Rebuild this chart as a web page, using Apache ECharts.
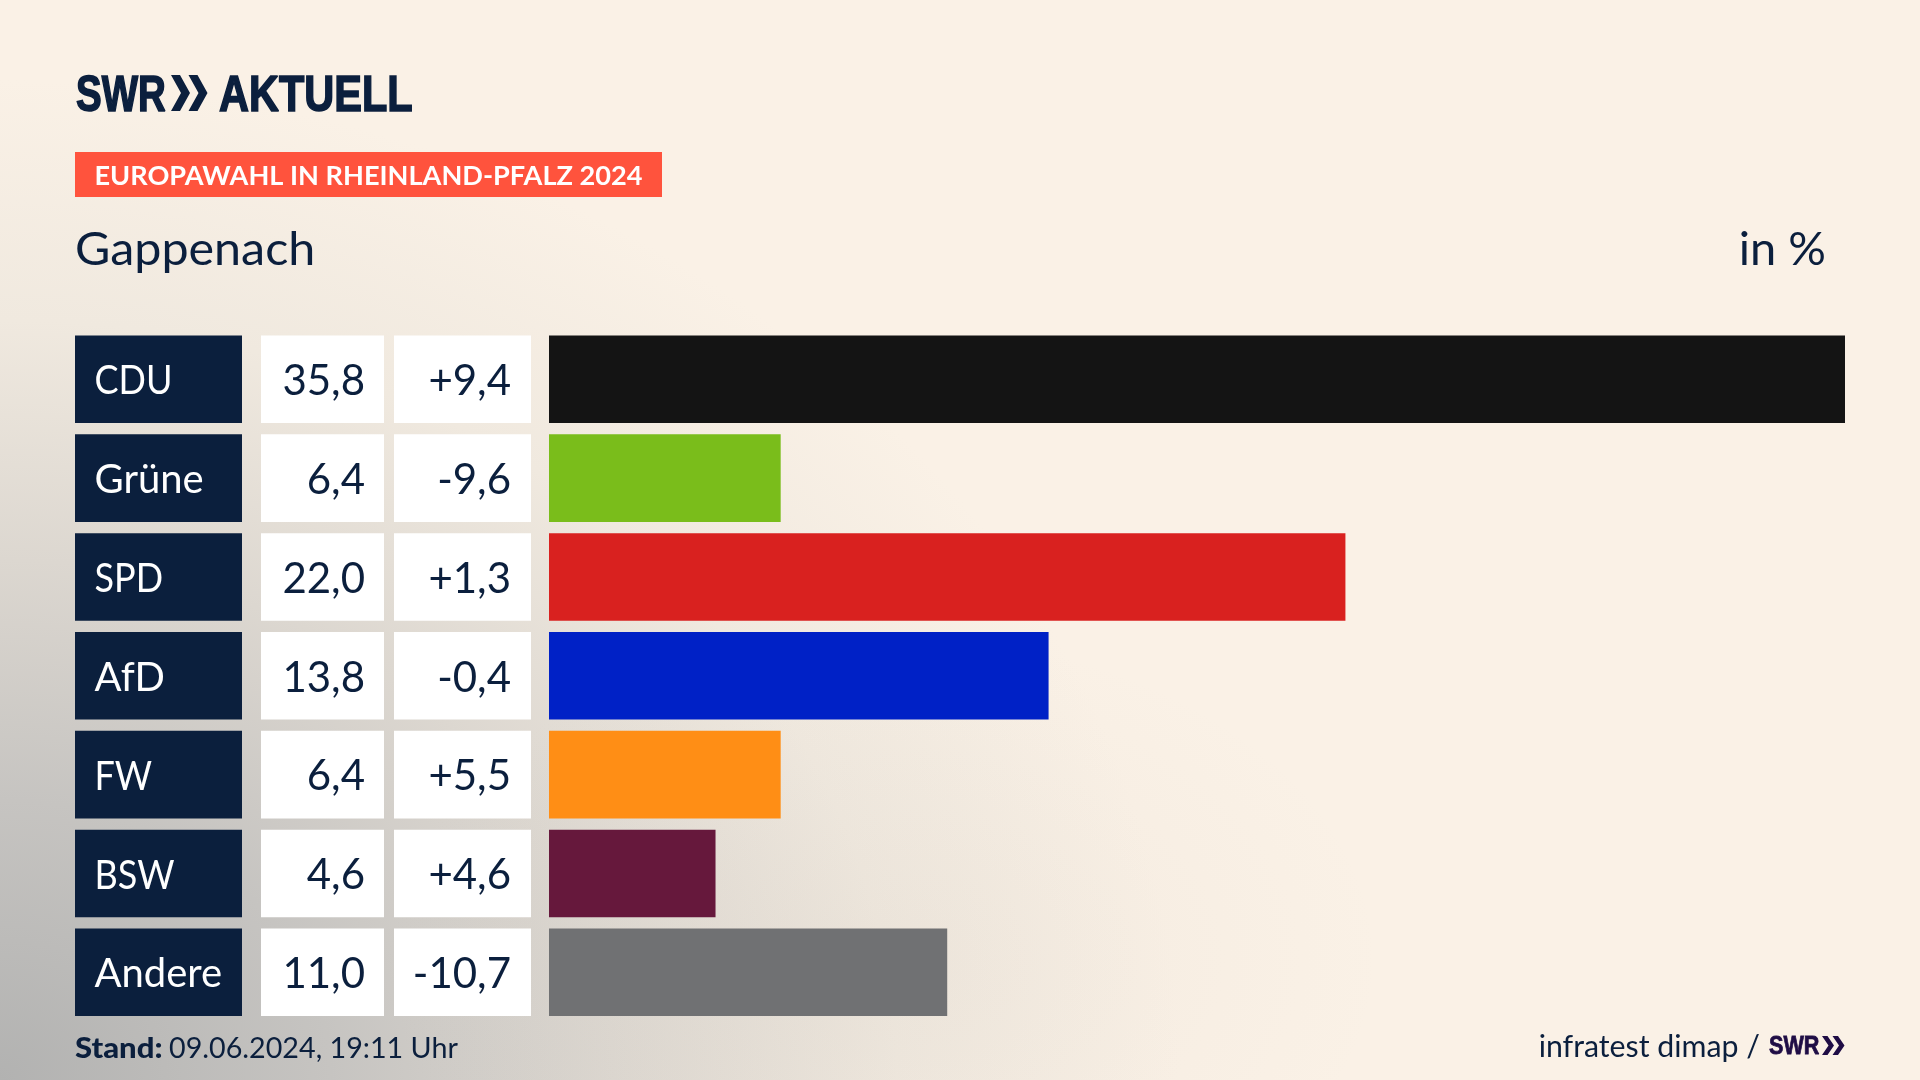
<!DOCTYPE html>
<html><head><meta charset="utf-8">
<style>
html,body{margin:0;padding:0;width:1920px;height:1080px;overflow:hidden}
#c{width:1920px;height:1080px;
background:
radial-gradient(ellipse 500px 330px at 880px 960px, rgba(200,190,180,.13), rgba(200,190,180,0) 100%),
radial-gradient(ellipse 1180px 1000px at 0px 1080px, #b2b2b1 0%, #c6c4c1 28%, #dcd7d0 52%, #f0e9df 76%, #faf1e6 100%),
#faf1e6;}
</style>
<script src="https://cdn.jsdelivr.net/npm/echarts@6/dist/echarts.min.js"></script>
</head><body><div id="c"></div>
<script>
const categories=["CDU","Grüne","SPD","AfD","FW","BSW","Andere"];
const shares=[35.8,6.4,22.0,13.8,6.4,4.6,11.0];
const changes=[9.4,-9.6,1.3,-0.4,5.5,4.6,-10.7];
const barColors=["#141414","#7abd1b","#d9211f","#0021c6","#ff8e15","#66183c","#707173"];
const navy="#0b1f3d";
const FONT="Lato";
const de=v=>v.toFixed(1).replace(".",",");
const signed=v=>(v>0?"+":"")+de(v);
const ROW_H=87.6, TOP=329.9, BAND=98.83;
const gridBase={top:TOP,height:BAND*7,containLabel:false};
const colGrids=[[75,167],[261,123],[394,137],[549,1296]];
const grid=colGrids.map(g=>({...gridBase,left:g[0],width:g[1]}));
const xAxis=colGrids.map((g,i)=>({gridIndex:i,type:"value",min:0,max:i==3?35.8:1,show:false}));
const yAxis=colGrids.map((g,i)=>({gridIndex:i,type:"category",data:categories,inverse:true,show:false}));
function cell(fill,color,align,pad,size,fn){
  return (p,api)=>{
    const cs=p.coordSys, cy=api.coord([0,api.value(1)])[1], s=fn(p.dataIndex);
    const sx=(align=="left"&&s===s.toUpperCase())?.9:1;
    return {type:"group",children:[
      {type:"rect",shape:{x:cs.x,y:cy-ROW_H/2,width:cs.width,height:ROW_H},style:{fill}},
      {type:"text",x:align=="left"?cs.x+pad:cs.x+cs.width-pad,y:cy+2.2,scaleX:sx,style:{x:0,y:0,text:s,fill:color,
        font:"400 "+size+"px "+FONT,align,verticalAlign:"middle"}}
    ]};
  };
}
const rows=categories.map((c,i)=>[0,c]);
const series=[
 {type:"custom",xAxisIndex:0,yAxisIndex:0,data:rows,silent:true,encode:{x:0,y:1},renderItem:cell(navy,"#fff","left",19.5,40,i=>categories[i])},
 {type:"custom",xAxisIndex:1,yAxisIndex:1,data:rows,silent:true,encode:{x:0,y:1},renderItem:cell("#fff",navy,"right",19,42,i=>de(shares[i]))},
 {type:"custom",xAxisIndex:2,yAxisIndex:2,data:rows,silent:true,encode:{x:0,y:1},renderItem:cell("#fff",navy,"right",20,42,i=>signed(changes[i]))},
 {type:"bar",xAxisIndex:3,yAxisIndex:3,barWidth:ROW_H,silent:true,animation:false,
  data:shares.map((v,i)=>({value:v,itemStyle:{color:barColors[i]}}))}
];
function chevrons(x,y,w,h,t,gap,fill){
  return [0,1].map(k=>({type:"polygon",shape:{points:[
    [x+k*gap,y],[x+k*gap+t,y],[x+k*gap+w,y+h/2],[x+k*gap+t,y+h],[x+k*gap,y+h],[x+k*gap+w-t,y+h/2]]},style:{fill}}));
}
const txt=(x,y,text,font,fill,align,extra,st)=>({type:"text",x,y,style:{text,font,fill:fill||navy,align:align||"left",verticalAlign:"middle",...(st||{})},...(extra||{})});
const heavy={stroke:navy,lineWidth:1.6};
const graphic=[
 txt(76,97,"SWR","700 50px 'Liberation Sans'",navy,"left",{scaleX:.77},heavy),
 ...chevrons(171,75,19,36,9,17.5,navy),
 txt(219,97,"AKTUELL","700 50px 'Liberation Sans'",navy,"left",{scaleX:.83},heavy),
 {type:"rect",shape:{x:75,y:152,width:587,height:45},style:{fill:"#ff533d"}},
 txt(94.5,176,"EUROPAWAHL IN RHEINLAND-PFALZ 2024","700 27px "+FONT,"#fff","left",{scaleX:1.005}),
 txt(75,249.5,"Gappenach","400 47px "+FONT,navy,"left",{scaleX:1.03}),
 txt(1826,249.5,"in %","400 47px "+FONT,navy,"right"),
 txt(75,1049,"Stand:","900 28.5px "+FONT,navy,"left",{scaleX:1.09}),
 txt(169,1049,"09.06.2024, 19:11 Uhr","400 28.7px "+FONT),
 txt(1760,1047,"infratest dimap /","400 30.3px "+FONT,navy,"right"),
 txt(1769,1046.5,"SWR","700 26px 'Liberation Sans'","#1f0d45","left",{scaleX:.83},{stroke:"#1f0d45",lineWidth:.8}),
 ...chevrons(1822,1036,12,19,5.5,10.5,"#1f0d45")
];
const chart=echarts.init(document.getElementById("c"),null,{width:1920,height:1080});
chart.setOption({animation:false,backgroundColor:"transparent",grid,xAxis,yAxis,series,graphic:{elements:graphic}});
</script></body></html>
